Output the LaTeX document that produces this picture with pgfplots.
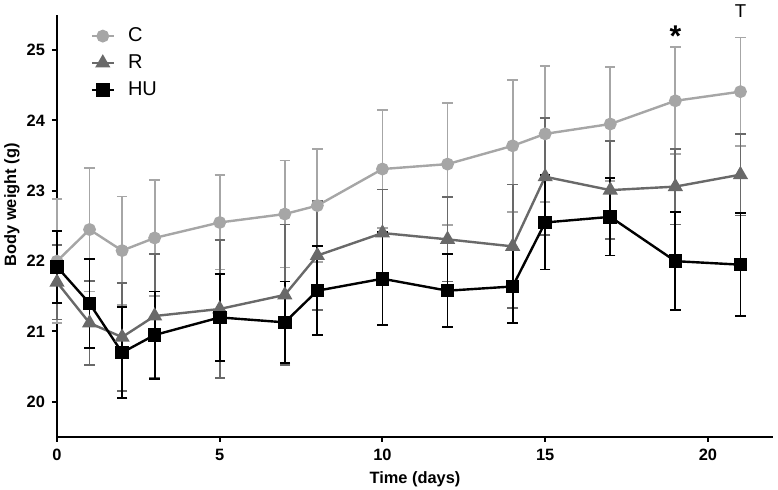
\documentclass[border=0pt]{standalone}
\usepackage{fontspec}
\setmainfont{Liberation Sans}
\usepackage{pgfplots}
\usepackage{pgfplotstable}
\pgfplotsset{compat=1.18}
\definecolor{cC}{RGB}{166,166,166}
\definecolor{cR}{RGB}{105,105,105}
\definecolor{cH}{RGB}{0,0,0}

\pgfplotstableread{
d m e
0 22.00 0.88
1 22.45 0.88
2 22.15 0.77
3 22.33 0.82
5 22.55 0.67
7 22.67 0.76
8 22.79 0.80
10 23.31 0.84
12 23.38 0.87
14 23.64 0.94
15 23.81 0.97
17 23.95 0.81
19 24.28 0.76
21 24.41 0.77
}\tabC

\pgfplotstableread{
d m e
0 21.70 0.53
1 21.12 0.60
2 20.92 0.77
3 21.22 0.88
5 21.32 0.98
7 21.52 1.00
8 22.08 0.78
10 22.40 0.62
12 22.31 0.60
14 22.21 0.88
15 23.20 0.83
17 23.01 0.70
19 23.06 0.54
21 23.23 0.58
}\tabR

\pgfplotstableread{
d m e
0 21.92 0.51
1 21.40 0.63
2 20.70 0.65
3 20.95 0.62
5 21.20 0.62
7 21.13 0.58
8 21.58 0.63
10 21.75 0.66
12 21.58 0.52
14 21.64 0.52
15 22.55 0.67
17 22.63 0.55
19 22.00 0.70
21 21.95 0.73
}\tabH

\begin{document}
\begin{tikzpicture}
\useasboundingbox (-28.5pt,-26.5pt) rectangle (360.5pt,218.5pt);
\begin{axis}[
  at={(0pt,0pt)}, anchor=south west,
  scale only axis, width=358pt, height=211pt,
  xmin=0, xmax=22, ymin=19.5, ymax=25.5,
  axis lines=left, axis line style={-, line width=1pt, black},
  tick align=outside, major tick length=2.5pt,
  tick style={line width=1pt, black},
  xtick={0,5,10,15,20}, ytick={20,21,22,23,24,25},
  /pgf/number format/assume math mode=true,
  ticklabel style={font=\bfseries\fontsize{8.2}{9}\selectfont},
  xlabel={Time (days)}, ylabel={Body weight (g)},
  label style={font=\bfseries\fontsize{8.2}{9}\selectfont},
  xlabel style={at={(axis description cs:0.5,-0.1)}, anchor=center},
  ylabel style={at={(axis description cs:-0.063,0.55)}, anchor=center},
  clip=false,
  legend style={at={(axis description cs:0.038,0.99)}, anchor=north west,
    draw=none, fill=none, font=\fontsize{10}{11}\selectfont, row sep=1pt},
  legend cell align=left,
  legend image code/.code={\draw[mark repeat=2,mark phase=2,#1] plot coordinates {(0pt,0pt) (5.5pt,0pt) (11pt,0pt)};\path (15.5pt,0pt);},
  error bars/y dir=both, error bars/y explicit,
]
\addplot[cC, line width=1.2pt, mark=*, mark size=2.6pt, mark options={solid, fill=cC, draw=cC},
  error bars/error bar style={line width=0.9pt, cC},
  error bars/error mark options={rotate=90, mark size=2.6pt, line width=0.9pt, cC}]
  table[x=d, y=m, y error=e] {\tabC};
\addlegendentry{C}
\addplot[cR, line width=1.2pt, mark=triangle*, mark size=3.2pt, mark options={solid, fill=cR, draw=cR},
  error bars/error bar style={line width=0.9pt, cR},
  error bars/error mark options={rotate=90, mark size=2.6pt, line width=0.9pt, cR}]
  table[x=d, y=m, y error=e] {\tabR};
\addlegendentry{R}
\addplot[cH, line width=1.2pt, mark=square*, mark size=2.8pt, mark options={solid, fill=cH, draw=cH},
  error bars/error bar style={line width=0.9pt, cH},
  error bars/error mark options={rotate=90, mark size=2.6pt, line width=0.9pt, cH}]
  table[x=d, y=m, y error=e] {\tabH};
\addlegendentry{HU}
\node[font=\bfseries\fontsize{15}{15}\selectfont] at (axis cs:19,25.2) {*};
\node[font=\fontsize{9.3}{10}\selectfont] at (axis cs:21,25.55) {T};
\end{axis}
\end{tikzpicture}
\end{document}
